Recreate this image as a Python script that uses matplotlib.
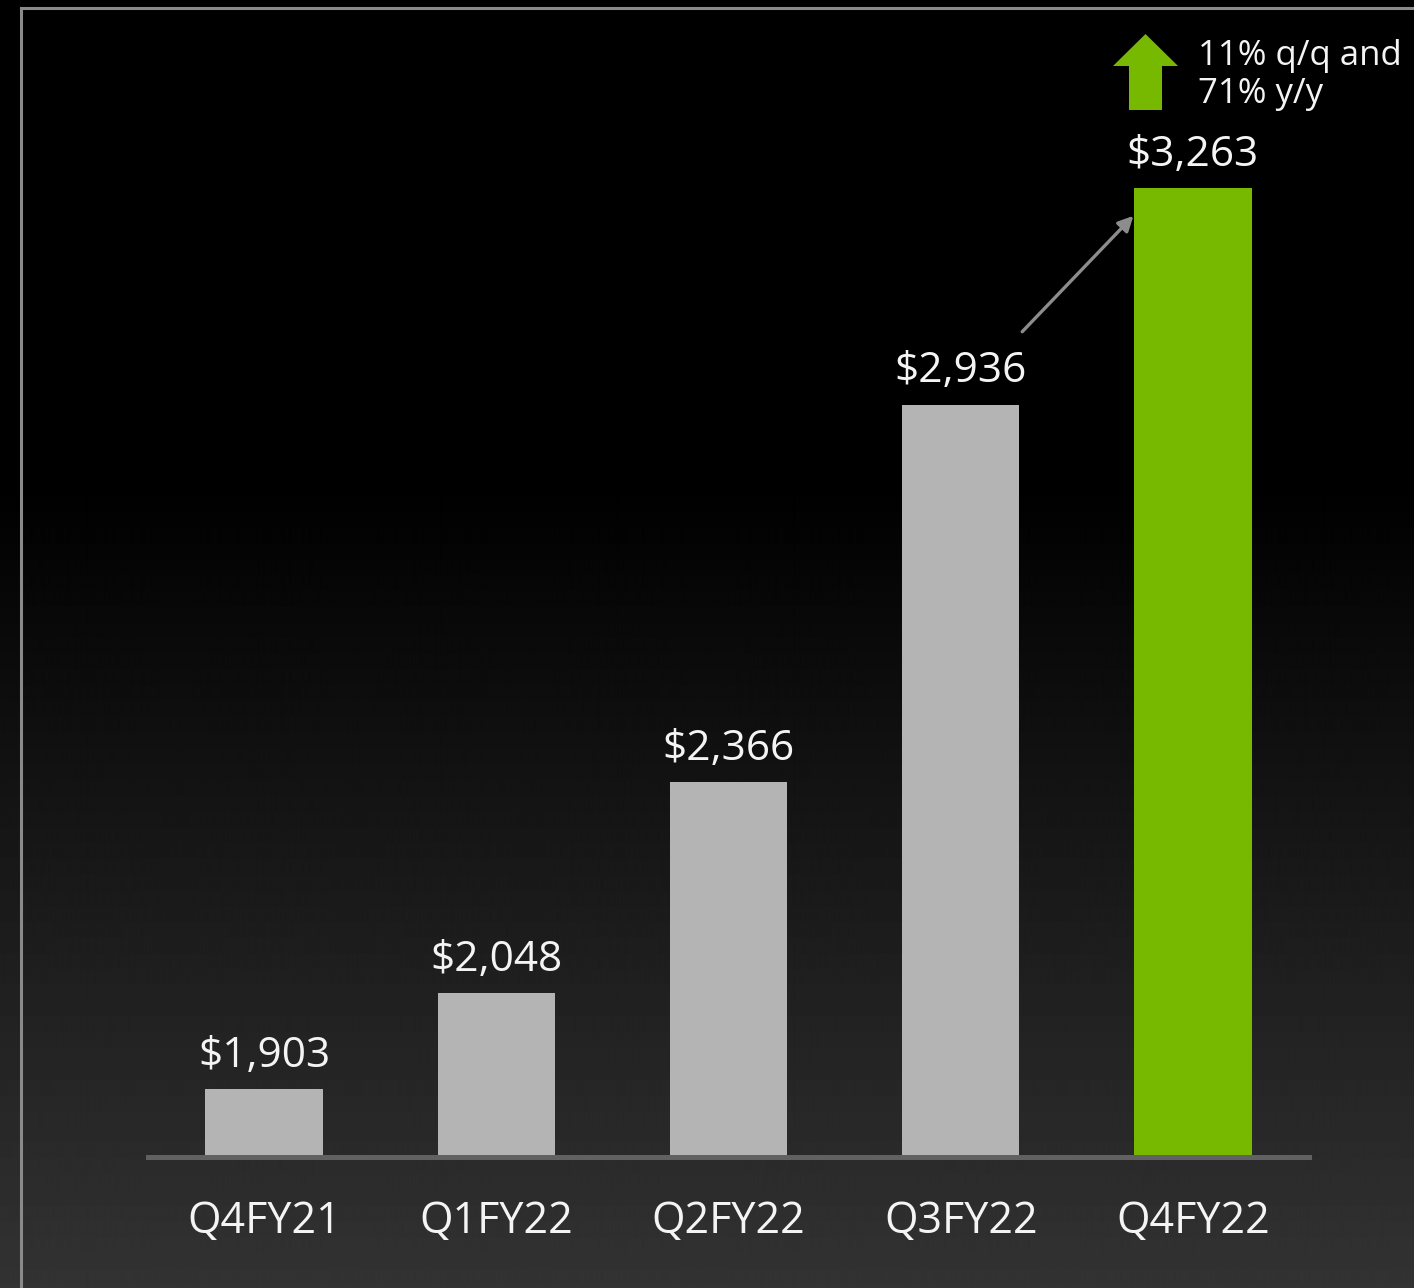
import numpy as np
import matplotlib
matplotlib.use("Agg")
import matplotlib.pyplot as plt
from matplotlib.patches import Polygon
from matplotlib.lines import Line2D

quarters = ["Q4FY21", "Q1FY22", "Q2FY22", "Q3FY22", "Q4FY22"]
revenue = [1903, 2048, 2366, 2936, 3263]
value_labels = ["$1,903", "$2,048", "$2,366", "$2,936", "$3,263"]
growth_lines = ["11% q/q and", "71% y/y"]

GRAY = "#b4b4b4"
GREEN = "#76b900"
TEXT = "#f4f4f4"
W, H = 1414, 1288

plt.rcParams["font.family"] = ["Open Sans", "DejaVu Sans"]

fig = plt.figure(figsize=(W / 100, H / 100), dpi=100)

# dark backdrop: black at the top, fading to charcoal at the bottom
bg = fig.add_axes([0, 0, 1, 1], zorder=0)
rows = np.arange(H)
shade = np.clip((rows - 480) / (H - 480), 0, 1) * 0.2
grad = np.repeat(shade[:, None], 8, axis=1)
bg.imshow(grad, cmap="gray", vmin=0, vmax=1, aspect="auto", extent=[0, 1, 0, 1], origin="upper")
bg.set_xlim(0, 1)
bg.set_ylim(0, 1)
bg.axis("off")

# slide frame
fx, fy = 21 / W, 1 - 8 / H
fig.add_artist(Line2D([fx, fx], [0, fy], color="#8a8a8a", lw=2.2, transform=fig.transFigure, zorder=1))
fig.add_artist(Line2D([fx, 1], [fy, fy], color="#8a8a8a", lw=2.2, transform=fig.transFigure, zorder=1))

ax = fig.add_axes([148 / W, (H - 1157) / H, 1161 / W, 0.8228], zorder=2)
ax.patch.set_alpha(0)
colors = [GRAY] * (len(revenue) - 1) + [GREEN]
x = np.arange(len(quarters))
ax.bar(x, revenue, width=0.505, bottom=0, color=colors, zorder=2)
ax.set_xlim(-0.5, 4.5)
ax.set_ylim(1800, 3400)

for s in ["top", "right", "left"]:
    ax.spines[s].set_visible(False)
ax.spines["bottom"].set_color("#616161")
ax.spines["bottom"].set_linewidth(3.6)
ax.spines["bottom"].set_zorder(3)
ax.set_yticks([])
ax.set_xticks([])

for xi, v, lab in zip(x, revenue, value_labels):
    ax.annotate(lab, (xi, v), xytext=(0, 16), textcoords="offset points",
                ha="center", va="baseline", fontsize=30.5, color=TEXT)

for xi, q in zip(x, quarters):
    ax.annotate(q, (xi, 1800), xytext=(0, -55), textcoords="offset points",
                ha="center", va="baseline", fontsize=31, color=TEXT, annotation_clip=False)

# sequential growth arrow from Q3 label to Q4 bar
ax.annotate("", xy=(3.744, 3221), xytext=(3.265, 3046),
            arrowprops=dict(arrowstyle="-|>,head_length=0.9,head_width=0.45",
                            color="#8c8c8c", lw=2.4, shrinkA=0, shrinkB=0))

# green up arrow next to growth note
pts = [(1113, 66), (1145.5, 34), (1178, 66), (1162, 66), (1162, 110), (1129, 110), (1129, 66)]
fig.add_artist(Polygon([(px / W, 1 - py / H) for px, py in pts], closed=True,
                       facecolor=GREEN, edgecolor="none", transform=fig.transFigure, zorder=4))
for line, base in zip(growth_lines, [65, 103]):
    fig.text(1198 / W, 1 - base / H, line, fontsize=25, color=TEXT, ha="left",
             va="baseline", zorder=4)

fig.savefig("out.png", dpi=100, facecolor="black")
